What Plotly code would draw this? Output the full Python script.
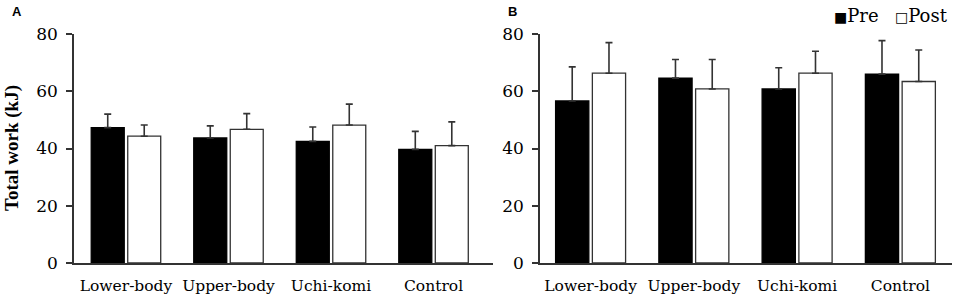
import plotly.graph_objects as go

categories = ["Lower-body", "Upper-body", "Uchi-komi", "Control"]
a_pre = [47.3, 43.7, 42.5, 39.7]
a_pre_sd = [4.7, 4.2, 5.0, 6.3]
a_post = [44.3, 46.7, 48.2, 41.0]
a_post_sd = [3.9, 5.5, 7.3, 8.3]
b_pre = [56.6, 64.6, 60.8, 66.0]
b_pre_sd = [11.9, 6.5, 7.4, 11.7]
b_post = [66.3, 60.8, 66.3, 63.4]
b_post_sd = [10.7, 10.3, 7.7, 11.0]
y_ticks = [0, 20, 40, 60, 80]

SERIF = "Liberation Serif"
WIDE = "DejaVu Serif"
AXC = "#333333"

fig = go.Figure()

def add(xa, ya, pre, pre_sd, post, post_sd):
    for name, vals, sd, fill in [("Pre", pre, pre_sd, "black"), ("Post", post, post_sd, "white")]:
        fig.add_trace(go.Bar(
            x=categories, y=vals, name=name, xaxis=xa, yaxis=ya,
            marker=dict(color=fill, line=dict(color=AXC if fill == "white" else "black", width=1.3)),
            error_y=dict(type="data", array=sd, arrayminus=[0] * len(sd), symmetric=False,
                         color=AXC, thickness=1.6, width=3.5),
            showlegend=False,
        ))

add("x", "y", a_pre, a_pre_sd, a_post, a_post_sd)
add("x2", "y2", b_pre, b_pre_sd, b_post, b_post_sd)

ydom = [1 - 263 / 299, 1 - 34 / 299]
common_x = dict(type="category", showline=True, linecolor=AXC, linewidth=1.5, ticks="",
                automargin=False, ticklabelstandoff=8,
                tickfont=dict(family=WIDE, size=15.5, color="black"), showgrid=False, zeroline=False)
common_y = dict(range=[0, 80], tickvals=y_ticks, showline=True, linecolor=AXC, linewidth=1.5,
                automargin=False, ticklabelstandoff=5,
                ticks="outside", ticklen=6, tickcolor=AXC, tickwidth=1.5,
                tickfont=dict(family=WIDE, size=17, color="black"), showgrid=False, zeroline=False)

fig.update_layout(
    width=956, height=299,
    margin=dict(l=0, r=0, t=0, b=0, autoexpand=False),
    plot_bgcolor="white", paper_bgcolor="white",
    barmode="group", bargap=0.288, bargroupgap=0.096,
    showlegend=False,
    xaxis=dict(domain=[74 / 956, 493 / 956], range=[-0.507, 3.58], anchor="y", **common_x),
    yaxis=dict(domain=ydom, anchor="x", **common_y),
    xaxis2=dict(domain=[540 / 956, 952 / 956], range=[-0.49, 3.5], anchor="y2", **common_x),
    yaxis2=dict(domain=ydom, anchor="x2", **common_y),
    annotations=[
        dict(text="<b>Total work (kJ)</b>", x=12 / 956, y=1 - 148 / 299, xref="paper", yref="paper",
             showarrow=False, textangle=-90, xanchor="center", yanchor="middle",
             font=dict(family=SERIF, size=19, color="black")),
        dict(text="<b>A</b>", x=10 / 956, y=1 - 12 / 299, xref="paper", yref="paper", showarrow=False,
             xanchor="left", yanchor="middle", font=dict(family="Liberation Sans", size=13, color="black")),
        dict(text="<b>B</b>", x=506 / 956, y=1 - 12 / 299, xref="paper", yref="paper", showarrow=False,
             xanchor="left", yanchor="middle", font=dict(family="Liberation Sans", size=13, color="black")),
        dict(text="<span style='font-size:14px'>■</span>Pre", x=832 / 956, y=1 - 16 / 299,
             xref="paper", yref="paper", showarrow=False, xanchor="left", yanchor="middle",
             font=dict(family=WIDE, size=18, color="black")),
        dict(text="<span style='font-size:14px'>□</span>Post", x=893 / 956, y=1 - 16 / 299,
             xref="paper", yref="paper", showarrow=False, xanchor="left", yanchor="middle",
             font=dict(family=WIDE, size=18, color="black")),
    ],
)

fig.write_html("out.html", config={"displayModeBar": False},
               post_script="document.body.style.margin='0';")
